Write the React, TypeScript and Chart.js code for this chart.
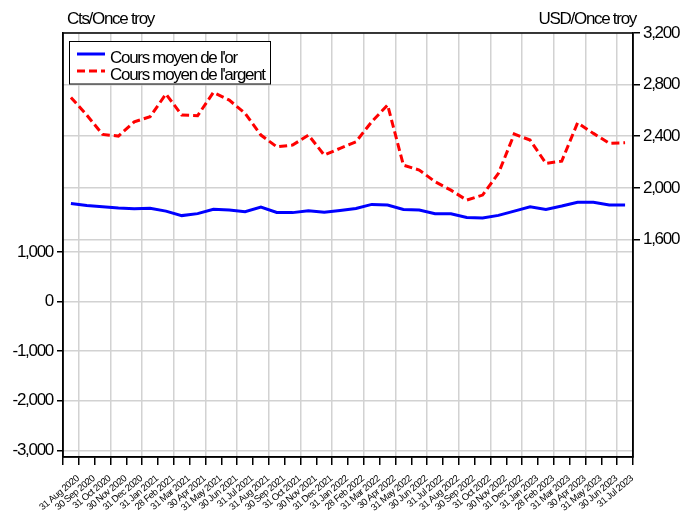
import React, { useEffect, useRef } from 'react';
import { Chart, registerables } from 'chart.js';
Chart.register(...registerables);

const categories = ['31 Aug 2020', '30 Sep 2020', '31 Oct 2020', '30 Nov 2020', '31 Dec 2020', '31 Jan 2021', '28 Feb 2021', '31 Mar 2021', '30 Apr 2021', '31 May 2021', '30 Jun 2021', '31 Jul 2021', '31 Aug 2021', '30 Sep 2021', '31 Oct 2021', '30 Nov 2021', '31 Dec 2021', '31 Jan 2022', '28 Feb 2022', '31 Mar 2022', '30 Apr 2022', '31 May 2022', '30 Jun 2022', '31 Jul 2022', '31 Aug 2022', '30 Sep 2022', '31 Oct 2022', '30 Nov 2022', '31 Dec 2022', '31 Jan 2023', '28 Feb 2023', '31 Mar 2023', '30 Apr 2023', '31 May 2023', '30 Jun 2023', '31 Jul 2023'];

const gold = [1976, 1932, 1910, 1885, 1870, 1880, 1820, 1730, 1770, 1858, 1845, 1808, 1902, 1792, 1790, 1830, 1798, 1835, 1875, 1956, 1942, 1855, 1841, 1767, 1767, 1694, 1680, 1734, 1821, 1908, 1855, 1922, 2000, 2000, 1945, 1942];

const silver = [2701, 2564, 2414, 2401, 2512, 2551, 2727, 2564, 2559, 2740, 2680, 2577, 2409, 2318, 2331, 2409, 2254, 2306, 2357, 2512, 2642, 2176, 2138, 2047, 1982, 1905, 1944, 2112, 2417, 2370, 2190, 2207, 2504, 2422, 2345, 2349];

const leftTicks = [-3000, -2000, -1000, 0, 1000];
const rightTicks = [1600, 2000, 2400, 2800, 3200];

const seriesNames = ["Cours moyen de l'or", "Cours moyen de l'argent"];
const leftTitle = 'Cts/Once troy';
const rightTitle = 'USD/Once troy';

const FONT = '"Liberation Sans", Arial, sans-serif';
const GRID = '#d2d2d2';

function patchSpacing(scale: any, spacing: string, dx = 0, dy = 0) {
  if (scale.__patched) return;
  scale.__patched = true;
  const orig = scale.drawLabels.bind(scale);
  scale.drawLabels = (area: any) => {
    const c = scale.ctx;
    c.save();
    c.letterSpacing = spacing;
    c.translate(dx, dy);
    orig(area);
    c.restore();
  };
}

const decorPlugin = {
  id: 'decor',
  afterDraw(chart: any) {
    const { ctx, chartArea } = chart;
    ctx.save();
    ctx.strokeStyle = '#000';
    ctx.lineWidth = 1.5;
    ctx.strokeRect(chartArea.left, chartArea.top, chartArea.right - chartArea.left, chartArea.bottom - chartArea.top);

    ctx.fillStyle = '#000';
    ctx.font = '17px ' + FONT;
    ctx.letterSpacing = '-1.3px';
    ctx.textBaseline = 'alphabetic';
    ctx.textAlign = 'left';
    ctx.fillText(leftTitle, 67, 24);
    ctx.textAlign = 'right';
    ctx.fillText(rightTitle, 636, 24);

    // legend
    ctx.fillStyle = '#fff';
    ctx.fillRect(69.5, 41.5, 201, 42.5);
    ctx.strokeStyle = '#000';
    ctx.lineWidth = 1;
    ctx.strokeRect(69.5, 41.5, 201, 42.5);
    ctx.lineWidth = 3;
    ctx.strokeStyle = '#0000ff';
    ctx.beginPath();
    ctx.moveTo(77, 54);
    ctx.lineTo(105, 54);
    ctx.stroke();
    ctx.strokeStyle = '#ff0000';
    ctx.setLineDash([8, 4]);
    ctx.beginPath();
    ctx.moveTo(77, 71);
    ctx.lineTo(105, 71);
    ctx.stroke();
    ctx.setLineDash([]);
    ctx.fillStyle = '#000';
    ctx.textAlign = 'left';
    ctx.fillText(seriesNames[0], 110, 62.5);
    ctx.fillText(seriesNames[1], 110, 79.5);
    ctx.restore();
  },
};

export default function App() {
  const ref = useRef<HTMLCanvasElement | null>(null);
  useEffect(() => {
    document.body.style.margin = '0';
    const chart = new Chart(ref.current as HTMLCanvasElement, {
      type: 'line',
      data: {
        labels: categories,
        datasets: [
          {
            label: seriesNames[0],
            data: gold,
            borderColor: '#0000ff',
            backgroundColor: '#0000ff',
            borderWidth: 3,
            pointRadius: 0,
            tension: 0,
            yAxisID: 'y',
          },
          {
            label: seriesNames[1],
            data: silver,
            borderColor: '#ff0000',
            backgroundColor: '#ff0000',
            borderWidth: 3,
            borderDash: [8, 4],
            pointRadius: 0,
            tension: 0,
            yAxisID: 'y1',
          },
        ],
      },
      options: {
        animation: false,
        responsive: true,
        maintainAspectRatio: false,
        devicePixelRatio: 1,
        layout: { padding: { top: 33, left: 0, right: 0, bottom: 0 } },
        plugins: { legend: { display: false }, tooltip: { enabled: false } },
        scales: {
          x: {
            type: 'category',
            offset: true,
            grid: {
              offset: true,
              color: (c: any) => (c.index % 2 === 1 ? GRID : 'rgba(0,0,0,0)'),
              tickColor: '#000',
              tickLength: 8,
              lineWidth: 1.5,
            },
            border: { display: true, color: '#000', width: 1.5 },
            ticks: {
              autoSkip: false,
              minRotation: 40,
              maxRotation: 40,
              color: '#000',
              padding: 1,
              font: { family: FONT, size: 9.5 },
            },
            afterFit: (s: any) => {
              s.height = 60;
              patchSpacing(s, '-0.5px', 7, 7);
            },
          },
          y: {
            position: 'left',
            min: -3135,
            max: 5410,
            afterBuildTicks: (s: any) => {
              s.ticks = leftTicks.map((v) => ({ value: v }));
            },
            grid: { color: GRID, tickColor: '#000', tickLength: 6, lineWidth: 1.5 },
            border: { display: true, color: '#000', width: 1.5 },
            ticks: {
              color: '#000',
              padding: 4,
              font: { family: FONT, size: 17 },
              callback: (v: any) => Number(v).toLocaleString('en-US'),
            },
            afterFit: (s: any) => {
              s.width = 63;
              patchSpacing(s, '-1.3px');
            },
          },
          y1: {
            position: 'right',
            min: -86,
            max: 3200,
            afterBuildTicks: (s: any) => {
              s.ticks = rightTicks.map((v) => ({ value: v }));
            },
            grid: { color: GRID, tickColor: '#000', tickLength: 7, lineWidth: 1.5 },
            border: { display: true, color: '#000', width: 1.5 },
            ticks: {
              color: '#000',
              padding: 3,
              font: { family: FONT, size: 17 },
              callback: (v: any) => Number(v).toLocaleString('en-US'),
            },
            afterFit: (s: any) => {
              s.width = 52;
              patchSpacing(s, '-1.3px');
            },
          },
        },
      },
      plugins: [decorPlugin],
    } as any);
    return () => chart.destroy();
  }, []);
  return (
    <div style={{ width: 685, height: 517, position: 'relative', background: '#fff' }}>
      <canvas ref={ref} />
    </div>
  );
}
